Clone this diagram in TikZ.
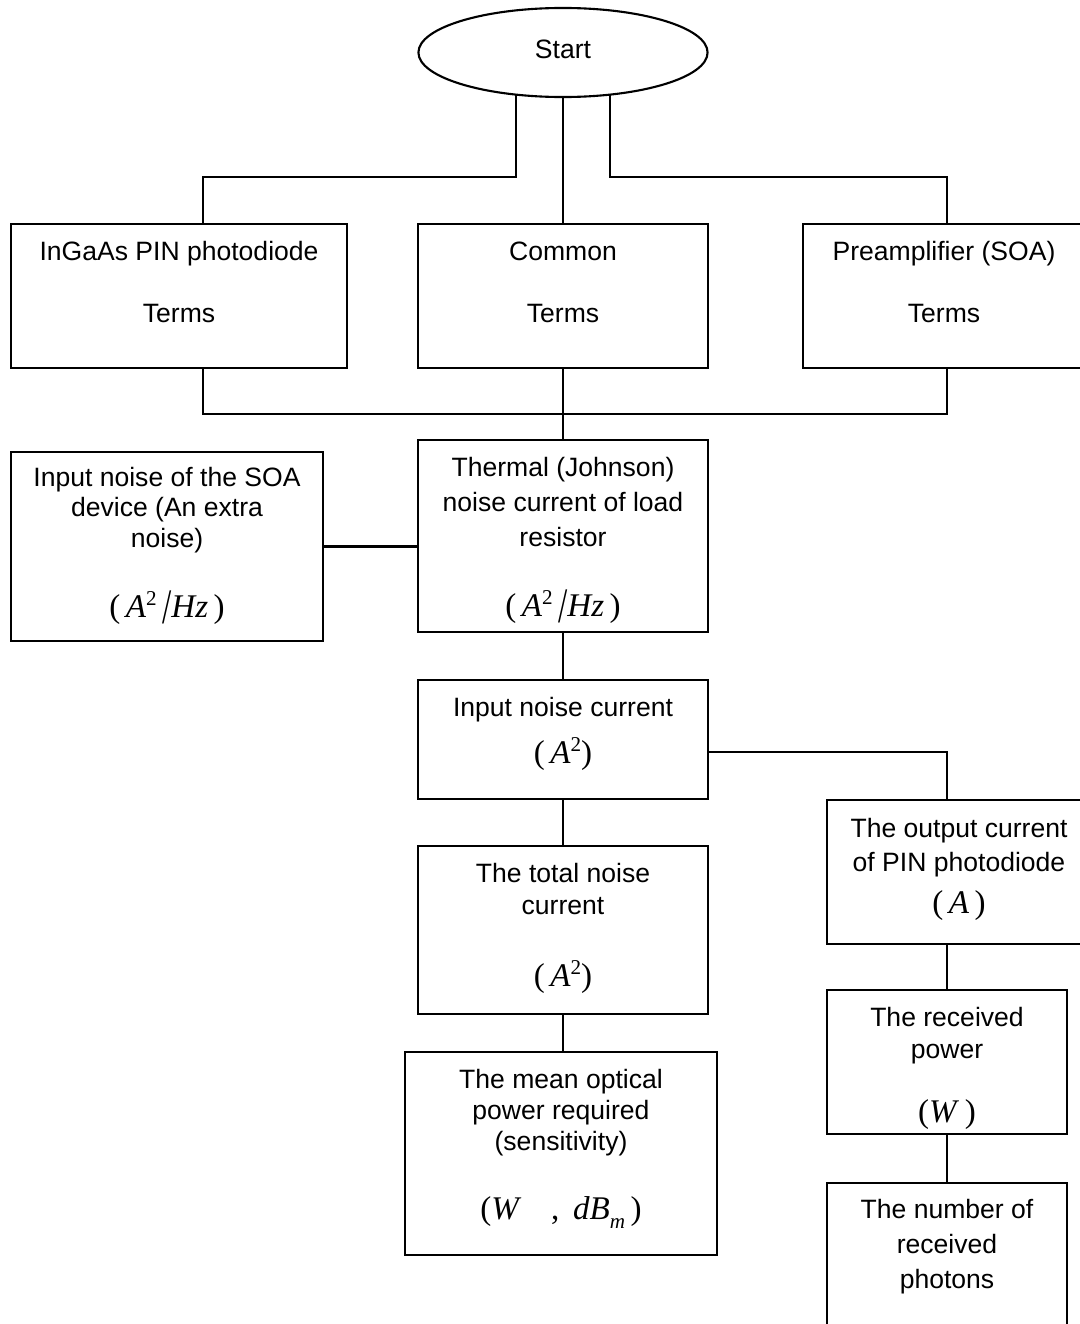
\documentclass[tikz,border=0pt]{standalone}
\usepackage{fontspec}
\setmainfont{Liberation Sans}
\newfontfamily\tms{Liberation Serif}
\usetikzlibrary{shapes.geometric,calc}
\newcommand\bx[5]{\node[box, minimum width={(#4-#2)*0.01cm}, minimum height={(#5-#3)*0.01cm}] (#1) at ({(#2+#4)/2},{(#3+#5)/2}) {};}
\newcommand\slsh{\raisebox{-0.45ex}{\scalebox{1}[1.5]{/}}}
\newcommand\sqr{\raisebox{0.75ex}{\fontsize{6pt}{6pt}\selectfont 2}}
\newcommand\fAHz{(\,\textit{A}\sqr\,\slsh\textit{Hz}\,)}
\begin{document}
\begin{tikzpicture}[x=0.01cm,y=-0.01cm, line width=0.6pt,
  box/.style={draw, rectangle, inner sep=0pt, outer sep=0pt},
  txt/.style={inner sep=0pt, text height=0.19cm, text depth=0pt, font=\fontsize{7.55pt}{9pt}\selectfont},
  frm/.style={inner sep=0pt, text height=0.22cm, text depth=0pt, font=\fontsize{9.4pt}{11pt}\selectfont\tms}]
\clip (0,0) rectangle (1080,1324);
% start
\node[draw, ellipse, minimum width=2.89cm, minimum height=0.89cm, inner sep=0pt, outer sep=0pt,
  text height=0.19cm, text depth=0.07cm, font=\fontsize{7.55pt}{9pt}\selectfont] (start) at (563,52.5) {Start};
% boxes
\bx{b1}{11}{224}{347}{368}
\bx{b2}{418}{224}{708}{368}
\bx{b3}{803}{224}{1085}{368}
\bx{soa}{11}{452}{323}{641}
\bx{th}{418}{440}{708}{632}
\bx{inn}{418}{680}{708}{799}
\bx{outc}{827}{800}{1091}{944}
\bx{tot}{418}{846}{708}{1014}
\bx{mean}{405}{1052}{717}{1255}
\bx{rec}{827}{990}{1067}{1134}
\bx{pho}{827}{1183}{1067}{1400}
% texts
\node[txt] (b1a) at (179,251) {InGaAs PIN photodiode};
\node[txt] (b1b) at (179,313) {Terms};
\node[txt] (b2a) at (563,251) {Common};
\node[txt] (b2b) at (563,313) {Terms};
\node[txt] (b3a) at (944,251) {Preamplifier (SOA)};
\node[txt] (b3b) at (944,313) {Terms};
\node[txt] (soaa) at (167,477) {Input noise of the SOA};
\node[txt] (soab) at (167,507) {device (An extra};
\node[txt] (soac) at (167,538) {noise)};
\node[frm] (soaf) at (167,606) {\fAHz};
\node[txt] (tha) at (563,467) {Thermal (Johnson)};
\node[txt] (thb) at (563,502) {noise current of load};
\node[txt] (thc) at (563,537) {resistor};
\node[frm] (thf) at (563,605) {\fAHz};
\node[txt] (inna) at (563,707) {Input noise current};
\node[frm] (innf) at (563,752) {(\,\textit{A}\sqr)};
\node[txt] (outa) at (959,828) {The output current};
\node[txt] (outb) at (959,862) {of PIN photodiode};
\node[frm] (outf) at (959,902) {(\,\textit{A}\,)};
\node[txt] (tota) at (563,873) {The total noise};
\node[txt] (totb) at (563,905) {current};
\node[frm] (totf) at (563,975) {(\,\textit{A}\sqr)};
\node[txt] (meana) at (561,1079) {The mean optical};
\node[txt] (meanb) at (561,1110) {power required};
\node[txt] (meanc) at (561,1141) {(sensitivity)};
\node[frm] (meanf) at (561,1208) {(\textit{W}\hspace{0.9em},\, \textit{dB}\raisebox{-0.6ex}{\fontsize{6pt}{6pt}\selectfont\textit{m}}\,)};
\node[txt] (reca) at (947,1017) {The received};
\node[txt] (recb) at (947,1049) {power};
\node[frm] (recf) at (947,1111) {(\textit{W}\,)};
\node[txt] (phoa) at (947,1209) {The number of};
\node[txt] (phob) at (947,1244) {received};
\node[txt] (phoc) at (947,1279) {photons};
% connectors
\coordinate (j1) at (203,177);
\coordinate (j3) at (947,177);
\draw (start.222) |- (j1) -- (j1 |- b1.north);
\draw (start.south) -- (b2.north);
\draw (start.318) |- (j3) -- (j3 |- b3.north);
\coordinate (bus1) at (203,414);
\coordinate (bus3) at (947,414);
\draw (bus1 |- b1.south) -- (bus1) -- (bus3) -- (bus3 |- b3.south);
\draw (b2.south) -- (th.north);
\draw (soa.east) -- (soa.east -| th.west);
\draw (th.south) -- (inn.north);
\coordinate (j4) at (947,752);
\draw (inn.east |- j4) -- (j4) -- (j4 |- outc.north);
\draw (inn.south) -- (tot.north);
\draw (tot.south) -- (tot.south |- mean.north);
\draw (rec.north |- outc.south) -- (rec.north);
\draw (rec.south) -- (pho.north);
\end{tikzpicture}
\end{document}
